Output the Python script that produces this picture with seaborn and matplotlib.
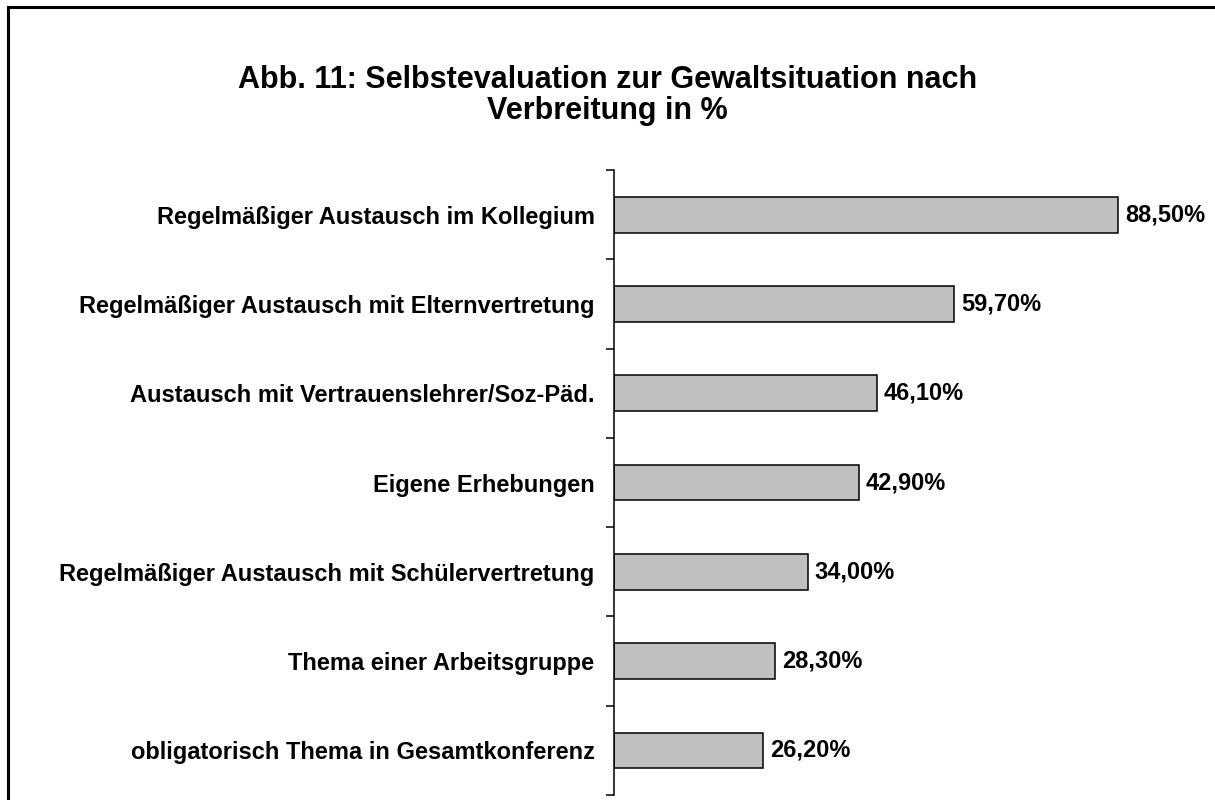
import pandas as pd
import matplotlib.pyplot as plt
import seaborn as sns
import numpy as np
from matplotlib.patches import Rectangle

sns.set_theme(style="white")
plt.rcParams['font.family'] = ['Liberation Sans', 'DejaVu Sans']

# Data
categories = [
    "Regelmäßiger Austausch im Kollegium",
    "Regelmäßiger Austausch mit Elternvertretung",
    "Austausch mit Vertrauenslehrer/Soz-Päd.",
    "Eigene Erhebungen",
    "Regelmäßiger Austausch mit Schülervertretung",
    "Thema einer Arbeitsgruppe",
    "obligatorisch Thema in Gesamtkonferenz",
]
values = [88.5, 59.7, 46.1, 42.9, 34.0, 28.3, 26.2]
value_labels = ["88,50%", "59,70%", "46,10%", "42,90%", "34,00%", "28,30%", "26,20%"]

df = pd.DataFrame({"Kategorie": categories, "Wert": values})

fig = plt.figure(figsize=(12.15, 8), dpi=100)
ax = fig.add_axes([0.5054, 0.00625, 0.4691, 0.78125])

sns.barplot(data=df, y="Kategorie", x="Wert", orient="h", color="#c0c0c0",
            edgecolor="black", linewidth=1.1, width=0.4, saturation=1, ax=ax)

ax.set_xlim(0, 100)
ax.set_ylim(len(categories) - 0.5, -0.5)
ax.set_xlabel("")
ax.set_ylabel("")
ax.set_xticks([])

# category labels, ticks sit between the bars
ax.set_yticks(np.arange(len(categories)))
ax.set_yticklabels(categories, fontsize=17, fontweight='bold', color='black')
ax.tick_params(axis='y', which='major', length=0, pad=14)
ax.set_yticks(np.arange(-0.5, len(categories)), minor=True)
ax.tick_params(axis='y', which='minor', direction='out', length=6, width=1.1,
               color='black', left=True)

for s in ['top', 'right', 'bottom']:
    ax.spines[s].set_visible(False)
ax.spines['left'].set_color('black')
ax.spines['left'].set_linewidth(1.1)

for i, (v, lab) in enumerate(zip(values, value_labels)):
    ax.text(v + 1.2, i, lab, va='center', ha='left', fontsize=17,
            fontweight='bold', color='black')

fig.text(0.5, 0.881, "Abb. 11: Selbstevaluation zur Gewaltsituation nach\nVerbreitung in %",
         ha='center', va='center', fontsize=22, fontweight='bold',
         linespacing=1.05, color='black')

# outer frame (cropped at right and bottom)
fig.patches.append(Rectangle((7.5 / 1215, -0.1), 1.2, 1.1 - 7.5 / 800,
                             transform=fig.transFigure, fill=False,
                             edgecolor='black', linewidth=2.2))

fig.savefig("out.png", dpi=100)
